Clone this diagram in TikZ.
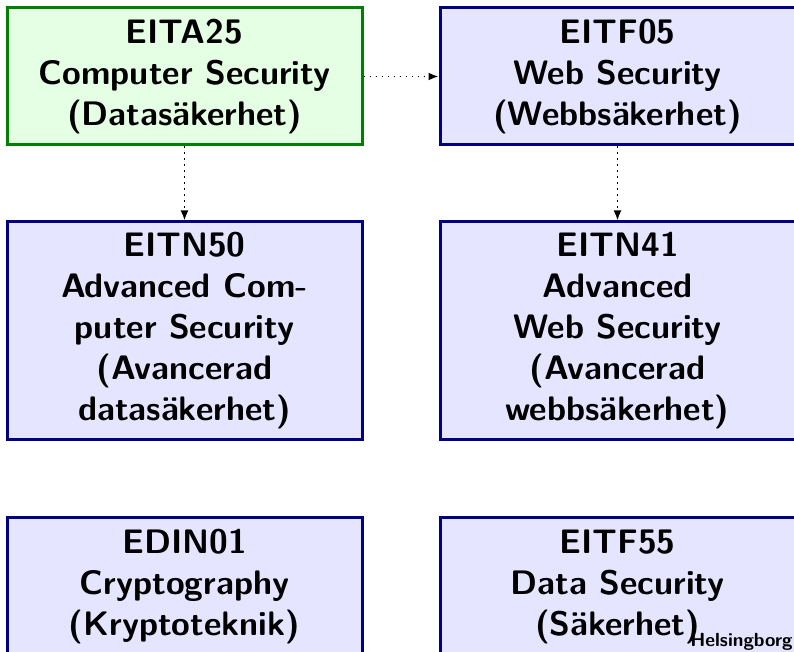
\documentclass[tikz,border=0pt]{standalone}
\usetikzlibrary{arrows.meta}
\begin{document}
\begin{tikzpicture}[x=0.5pt,y=-0.5pt,
  course/.style={rectangle, draw=blue!50!black, fill=blue!10, line width=1.5pt,
    minimum width=177.5pt, align=center, inner sep=0pt,
    font=\sffamily\bfseries\fontsize{17}{20.5}\selectfont},
  first/.style={course, draw=green!50!black, fill=green!10},
  link/.style={line width=0.9pt, dash pattern=on 0.9pt off 2.1pt, -{Latex[length=5pt,width=4pt]}},
  place/.style={font=\sffamily\bfseries\fontsize{9.5}{11}\selectfont, inner sep=0pt}]
\useasboundingbox (0,0) rectangle (794,652);
\node[first, minimum height=68.5pt] (eita25) at (184.5,76.5) {EITA25\\Computer Security\\(Datasäkerhet)};
\node[course, minimum height=68.5pt] (eitf05) at (617.5,76.5) {EITF05\\Web Security\\(Webbsäkerhet)};
\node[course, minimum height=109pt] (eitn50) at (184.5,331) {EITN50\\Advanced Com-\\puter Security\\(Avancerad\\datasäkerhet)};
\node[course, minimum height=109pt] (eitn41) at (617.5,331) {EITN41\\Advanced\\Web Security\\(Avancerad\\webbsäkerhet)};
\node[course, minimum height=68.5pt] (edin01) at (184.5,586.5) {EDIN01\\Cryptography\\(Kryptoteknik)};
\node[course, minimum height=68.5pt] (eitf55) at (617.5,586.5) {EITF55\\Data Security\\(Säkerhet)};
\node[place, anchor=south east] (hbg) at (793,651) {Helsingborg};
\draw[link] (eita25.east) -- (eitf05.west);
\draw[link] (eita25.south) -- (eitn50.north);
\draw[link] (eitf05.south) -- (eitn41.north);
\end{tikzpicture}
\end{document}
